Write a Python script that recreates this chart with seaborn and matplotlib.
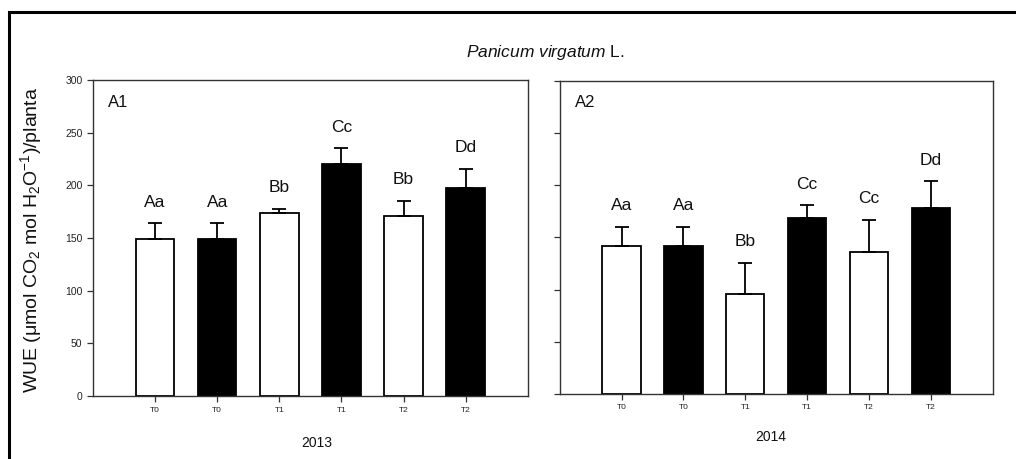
import numpy as np
import pandas as pd
import matplotlib
matplotlib.use("Agg")
import matplotlib.pyplot as plt
import seaborn as sns
from matplotlib.patches import Rectangle

# Data
treatments = ["T0", "T0", "T1", "T1", "T2", "T2"]
bar_fill = ["white", "black", "white", "black", "white", "black"]

wue_2013 = [149, 149, 174, 220, 171, 197]
err_2013 = [15, 15, 3.5, 15, 14.5, 18.5]
letters_2013 = ["Aa", "Aa", "Bb", "Cc", "Bb", "Dd"]

wue_2014 = [142, 142, 96, 169, 136, 178]
err_2014 = [18, 18, 30, 12, 31, 26]
letters_2014 = ["Aa", "Aa", "Bb", "Cc", "Cc", "Dd"]

sns.set_style("ticks")
plt.rcParams["font.family"] = ["Liberation Sans", "DejaVu Sans"]
plt.rcParams["text.color"] = "#111111"
plt.rcParams["xtick.color"] = "#222222"
plt.rcParams["ytick.color"] = "#222222"
plt.rcParams["mathtext.fontset"] = "custom"
plt.rcParams["mathtext.rm"] = "Liberation Sans"
plt.rcParams["mathtext.it"] = "Liberation Sans:italic"

fig = plt.figure(figsize=(10.16, 4.59), dpi=100)

# outer frame (only left and top visible in the original crop)
fig.add_artist(Rectangle((9 / 1016, -0.1), 1.2, 1.1 - 12 / 459,
                         transform=fig.transFigure, fill=False,
                         edgecolor="black", linewidth=2.2))

ax1 = fig.add_axes([0.0915, 0.137, 0.428, 0.689])
ax2 = fig.add_axes([0.551, 0.1416, 0.426, 0.682])


def draw_panel(ax, vals, errs, letters, tag):
    df = pd.DataFrame({"pos": range(len(vals)), "wue": vals})
    sns.barplot(data=df, x="pos", y="wue", hue="pos", palette=bar_fill,
                edgecolor="black", linewidth=1.3, width=0.62,
                legend=False, ax=ax)
    ax.errorbar(df["pos"], df["wue"], yerr=[np.zeros(len(vals)), errs],
                fmt="none", ecolor="black", elinewidth=1.3,
                capsize=5, capthick=1.3)
    for i, (v, e, lab) in enumerate(zip(vals, errs, letters)):
        ax.text(i, v + e + 13, lab, ha="center", va="bottom", fontsize=12.5)
    ax.set_xlim(-1, 6)
    ax.set_ylim(0, 300)
    ax.set_yticks(range(0, 301, 50))
    ax.set_xticks(range(len(vals)))
    ax.set_xticklabels(treatments, fontsize=6)
    ax.tick_params(axis="both", length=4, width=0.9, color="#333333")
    ax.tick_params(axis="y", labelsize=7.5)
    for s in ax.spines.values():
        s.set_visible(True)
        s.set_linewidth(1.0)
        s.set_color("#333333")
    ax.set_xlabel("")
    ax.set_ylabel("")
    ax.text(0.035, 0.93, tag, transform=ax.transAxes, fontsize=12,
            ha="left", va="center")


draw_panel(ax1, wue_2013, err_2013, letters_2013, "A1")
draw_panel(ax2, wue_2014, err_2014, letters_2014, "A2")
ax2.set_yticklabels([])

fig.text(317 / 1016, 1 - 443 / 459, "2013", ha="center", va="center", fontsize=10)
fig.text(771 / 1016, 1 - 437 / 459, "2014", ha="center", va="center", fontsize=10)

fig.text(545 / 1016, 1 - 53 / 459, r"$\mathit{Panicum\ virgatum}$ L.",
         ha="center", va="center", fontsize=12.5)

fig.text(31 / 1016, 1 - 240 / 459,
         r"WUE ($\mathregular{\mu}$mol CO$_2$ mol H$_2$O$^{-1}$)/planta",
         rotation=90, ha="center", va="center", fontsize=14)

plt.savefig("out.png", dpi=100)
